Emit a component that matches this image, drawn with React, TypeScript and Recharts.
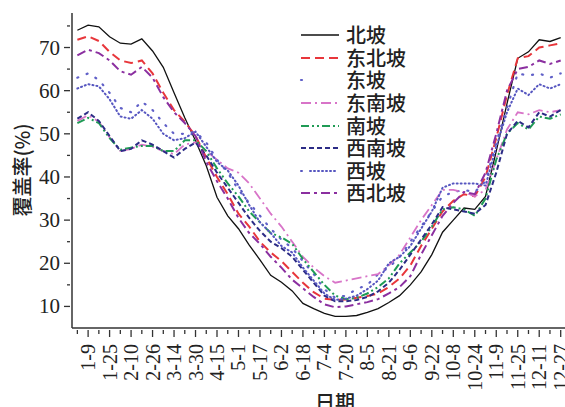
import React from 'react';
import { LineChart, Line, XAxis, YAxis, Legend } from 'recharts';

// 8-day composites, 1-1 .. 12-27
const dates = [
  '1-1', '1-9', '1-17', '1-25', '2-2', '2-10', '2-18', '2-26', '3-6', '3-14',
  '3-22', '3-30', '4-7', '4-15', '4-23', '5-1', '5-9', '5-17', '5-25', '6-2',
  '6-10', '6-18', '6-26', '7-4', '7-12', '7-20', '7-28', '8-5', '8-13', '8-21',
  '8-29', '9-6', '9-14', '9-22', '9-30', '10-8', '10-16', '10-24', '11-1', '11-9',
  '11-17', '11-25', '12-3', '12-11', '12-19', '12-27',
];

const north = [
  74, 75.2, 74.8, 72.5, 71, 70.8, 72, 69.2, 65.4, 59.5,
  53.7, 48.4, 42.6, 35.3, 31, 28, 24.2, 20.8, 17.2, 15.6,
  13.6, 10.7, 9.5, 8.4, 7.7, 7.7, 7.9, 8.6, 9.5, 10.9,
  12.5, 15, 18, 22, 27.2, 30, 32.8, 32.5, 35.5, 46,
  57, 67.5, 69, 71.8, 71.4, 72.3,
];
const northEast = [
  71.8, 72.6, 71.5, 69, 67, 66.4, 67, 64, 59.5, 55.5,
  52.8, 49.5, 44.5, 40, 36, 31.5, 28.5, 25, 22.5, 20.5,
  18, 15.5, 13.3, 11.8, 11.5, 11.6, 12, 12.4, 13, 14.5,
  16.5, 19.5, 24, 28, 32, 34.5, 36, 35.5, 40, 49,
  59, 67.5, 68, 70, 70.5, 71,
];
const east = [
  63, 64, 62.5, 59.5, 56, 55, 57.5, 55.5, 52.5, 50,
  50, 50.5, 48, 44, 41, 37, 34, 31, 28, 25.5,
  23.5, 20.5, 17.5, 14, 12, 12.5, 14, 15, 17.5, 19,
  21.5, 25, 28.5, 32, 35.5, 36.5, 37, 36.5, 39, 48,
  56, 64, 63.5, 64, 63, 64,
];
const southEast = [
  53, 54.3, 52.8, 49.2, 46, 46.5, 47.5, 47, 46, 45.3,
  47.5, 48, 46, 44, 42, 41, 38.5, 35, 31.5, 28.5,
  25, 21.5, 19, 17, 15.5, 16, 16.5, 17, 17.5, 19.5,
  22, 26, 30, 33.5, 37, 37, 36.5, 35.5, 37, 44,
  51, 55, 54.5, 55.5, 55, 55.5,
];
const south = [
  52.5, 53.7, 52.5, 49, 46.3, 46.8, 47.2, 47.2, 46, 46,
  48.5, 48.5, 46, 42, 38.5, 35.5, 32, 29.5, 27, 26,
  24.5, 21, 18, 15, 12.5, 11.7, 12, 13, 14.5, 16.5,
  20, 22.5, 25, 28.5, 32.5, 33, 32.5, 31, 35, 44,
  50, 52.5, 51, 54, 53.5, 54.5,
];
const southWest = [
  53.5, 55, 53, 49.5, 46, 46.5, 48.5, 47.5, 46, 44.5,
  46.5, 48, 45, 41, 37.5, 34, 30.5, 27.5, 25, 23.5,
  21.5, 18.5, 15.5, 12.5, 11.2, 11.2, 11.5, 12.2, 13.5, 15.5,
  18.5, 22, 25.5, 29, 33, 32.5, 32, 31.5, 33.5, 41,
  50, 53, 51.5, 55, 54, 55.5,
];
const west = [
  60.5, 61.5, 61, 58, 54, 53.5, 55.5, 53.5, 50, 48.5,
  49, 50.5, 47, 43.5, 41.5, 38, 33.5, 29.5, 27, 24,
  22.5, 19, 16, 13, 11.5, 11.8, 12.5, 14, 16, 20,
  21.5, 24, 28, 32, 37.5, 38.5, 38.5, 38.5, 38, 47,
  55, 60.5, 59, 61.5, 60.5, 61.5,
];
const northWest = [
  68.2, 69.5, 68.7, 67, 64.5, 63.7, 65.5, 63, 58.5, 55,
  52.5, 49.5, 43.5, 39, 35, 30.5, 27, 24.5, 21.5, 19,
  16.2, 14.2, 12.2, 10.5, 9.8, 10, 10.5, 11, 11.7, 13,
  14.5, 17, 22, 26.5, 31, 34, 36.5, 36, 41, 50,
  60, 65, 65.5, 67, 66.2, 67,
];

const yTicks = [10, 15, 20, 25, 30, 35, 40, 45, 50, 55, 60, 65, 70, 75];

const series = [
  { key: 'n', name: '北坡', values: north, color: '#111111', dash: undefined, width: 1.3 },
  { key: 'ne', name: '东北坡', values: northEast, color: '#e8363b', dash: '9 5', width: 2 },
  { key: 'e', name: '东坡', values: east, color: '#6060c8', dash: '1 9', width: 2.2, legendDash: '1 60' },
  { key: 'se', name: '东南坡', values: southEast, color: '#d874c8', dash: '10 4 2 4', width: 1.8 },
  { key: 's', name: '南坡', values: south, color: '#1f9b55', dash: '8 3 2 3 2 3', width: 2 },
  { key: 'sw', name: '西南坡', values: southWest, color: '#2c2c86', dash: '5 3', width: 2 },
  { key: 'w', name: '西坡', values: west, color: '#5656c0', dash: '1 3', width: 2, legendDash: '1 8 1 3 1 3 1 3 1 3 1 3 1 3' },
  { key: 'nw', name: '西北坡', values: northWest, color: '#8b2fa0', dash: '9 4 3 4', width: 2 },
];

const data = dates.map((date, i) => {
  const row: Record<string, number | string> = { i, date };
  series.forEach((s) => {
    row[s.key] = s.values[i];
  });
  return row;
});

const serif = '"Liberation Serif", "Times New Roman", serif';
const cjk = '"Noto Sans CJK SC", sans-serif';
const axisColor = '#333';

function DateTick({ x, y, payload }: any) {
  const i = payload.value;
  const major = i % 2 === 1;
  return (
    <g>
      <line x1={x} x2={x} y1={y} y2={y + (major ? 7 : 4)} stroke={axisColor} strokeWidth={1.3} />
      {major && (
        <text
          transform={`translate(${x},${y + 14}) rotate(-90)`}
          textAnchor="end"
          dominantBaseline="central"
          fontSize={20}
          fontFamily={serif}
          fill="#222"
        >
          {dates[i]}
        </text>
      )}
    </g>
  );
}

function CoverTick({ x, y, payload }: any) {
  const v = payload.value;
  const major = v % 10 === 0;
  return (
    <g>
      <line x1={x - (major ? 6 : 3)} x2={x} y1={y} y2={y} stroke={axisColor} strokeWidth={1.3} />
      {major && (
        <text x={x - 10} y={y} textAnchor="end" dominantBaseline="central" fontSize={21} fontFamily={serif} fill="#222">
          {v}
        </text>
      )}
    </g>
  );
}

function YTitle() {
  return (
    <text
      transform="translate(21,170) rotate(-90)"
      textAnchor="middle"
      dominantBaseline="central"
      fontSize={20}
      fontFamily={cjk}
      fontWeight={500}
      fill="#222"
    >
      覆盖率(%)
    </text>
  );
}

function XTitle() {
  return (
    <text x={335} y={401} textAnchor="middle" dominantBaseline="central" fontSize={20} fontFamily={cjk} fontWeight={500} fill="#222">
      日期
    </text>
  );
}

function SlopeLegend() {
  return (
    <div style={{ fontFamily: cjk, fontSize: 20, fontWeight: 500, color: '#222' }}>
      {series.map((s) => (
        <div key={s.key} style={{ display: 'flex', alignItems: 'center', height: 22.6 }}>
          <svg width={44} height={22} style={{ display: 'block' }}>
            <line
              x1={3}
              x2={41}
              y1={11}
              y2={11}
              stroke={s.color}
              strokeWidth={s.width}
              strokeDasharray={s.legendDash ?? s.dash}
              strokeLinecap={s.dash && s.dash.startsWith('1 ') ? 'round' : 'butt'}
            />
          </svg>
          <span style={{ marginLeft: 4, lineHeight: '22px', whiteSpace: 'nowrap' }}>{s.name}</span>
        </div>
      ))}
    </div>
  );
}

export default function App() {
  return (
    <div style={{ position: 'absolute', left: 0, top: 0, background: '#fff' }}>
      <LineChart width={565} height={407} data={data} margin={{ top: 13, right: 0, bottom: 0, left: 0 }}>
        <XAxis
          dataKey="i"
          type="number"
          domain={[-0.5, 45.4]}
          ticks={dates.map((_, i) => i)}
          interval={0}
          allowDataOverflow
          height={79}
          tickSize={0}
          tickLine={false}
          tick={<DateTick />}
          stroke={axisColor}
          strokeWidth={1.5}
          label={<XTitle />}
        />
        <YAxis
          type="number"
          domain={[5, 78]}
          ticks={yTicks}
          interval={0}
          allowDataOverflow
          width={72}
          tickSize={0}
          tickLine={false}
          tick={<CoverTick />}
          stroke={axisColor}
          strokeWidth={1.5}
          label={<YTitle />}
        />
        <Legend
          layout="vertical"
          align="center"
          verticalAlign="middle"
          content={<SlopeLegend />}
          wrapperStyle={{ left: 298, top: 24, width: 180, height: 185 }}
        />
        {series.map((s) => (
          <Line
            key={s.key}
            dataKey={s.key}
            name={s.name}
            type="linear"
            stroke={s.color}
            strokeWidth={s.width}
            strokeDasharray={s.dash}
            strokeLinecap={s.dash && s.dash.startsWith('1 ') ? 'round' : 'butt'}
            dot={false}
            activeDot={false}
            isAnimationActive={false}
          />
        ))}
      </LineChart>
    </div>
  );
}
